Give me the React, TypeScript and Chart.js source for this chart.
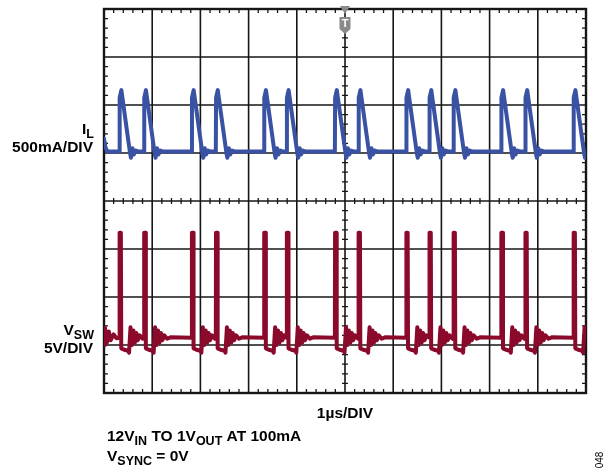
import React, { useEffect, useRef } from "react";
import { Chart, registerables } from "chart.js";
Chart.register(...registerables);

// Time axis in divisions (1 µs/DIV), vertical axis in divisions (8 DIV screen)
const xDivs = 10;
const yDivs = 8;

// Switching events (µs)
const pulseTimes = [0.32, 0.83, 1.82, 2.32, 3.32, 3.79, 4.79, 5.28, 6.27, 6.75, 7.25, 8.24, 8.74, 9.74];

// IL (500mA/DIV, zero at 5.03 DIV): tail of previous pulse at the left edge
const ilLeadT = [0, 0.03, 0.07];
const ilLeadV = [5.3, 5.12, 5.03];
// IL shape after each event (offset µs, DIV)
const ilShapeT = [0, 0.005, 0.04, 0.22, 0.24, 0.27, 0.3, 0.34, 0.4];
const ilShapeV = [5.03, 6.15, 6.31, 5.0, 4.9, 5.1, 4.97, 5.05, 5.03];

// VSW (5V/DIV, 0V at 1.0 DIV): ringing at the left edge
const vswLeadT = [0, 0.02, 0.06, 0.1, 0.14, 0.2, 0.26];
const vswLeadV = [1.0, 1.36, 1.05, 1.28, 1.1, 1.22, 1.14];
// VSW shape after each event (offset µs, DIV)
const vswShapeT = [0, 0.004, 0.03, 0.038, 0.1, 0.18, 0.2, 0.23, 0.26, 0.29, 0.32, 0.35, 0.38, 0.42, 0.48, 0.55];
const vswShapeV = [1.15, 3.34, 3.34, 0.93, 0.9, 0.88, 0.84, 1.37, 1.0, 1.3, 1.05, 1.25, 1.1, 1.2, 1.13, 1.16];

const ilLabel = [{ t: "I" }, { t: "L", sub: true }];
const ilScale = [{ t: "500mA/DIV" }];
const vswLabel = [{ t: "V" }, { t: "SW", sub: true }];
const vswScale = [{ t: "5V/DIV" }];
const timeLabel = [{ t: "1µs/DIV" }];
const note1 = [{ t: "12V" }, { t: "IN", sub: true }, { t: " TO 1V" }, { t: "OUT", sub: true }, { t: " AT 100mA" }];
const note2 = [{ t: "V" }, { t: "SYNC", sub: true }, { t: " = 0V" }];
const figId = "048";

function buildTrace(leadT: number[], leadV: number[], shT: number[], shV: number[]) {
  const pts: { x: number; y: number }[] = [];
  for (let i = 0; i < leadT.length; i++) {
    if (leadT[i] < pulseTimes[0]) pts.push({ x: leadT[i], y: leadV[i] });
  }
  for (let p = 0; p < pulseTimes.length; p++) {
    const t0 = pulseTimes[p];
    const next = p + 1 < pulseTimes.length ? pulseTimes[p + 1] : xDivs + 0.001;
    for (let j = 0; j < shT.length; j++) {
      const t = t0 + shT[j];
      if (t < next - 0.004 && t <= xDivs + 0.001) pts.push({ x: t, y: shV[j] });
    }
  }
  return pts;
}

type Run = { t: string; sub?: boolean };
const MAIN = 'bold 15.5px "Liberation Sans", Arial, sans-serif';
const SUB = 'bold 12.5px "Liberation Sans", Arial, sans-serif';

function drawRuns(ctx: CanvasRenderingContext2D, runs: Run[], x: number, y: number, align: "left" | "right" | "center") {
  let w = 0;
  for (const r of runs) {
    ctx.font = r.sub ? SUB : MAIN;
    w += ctx.measureText(r.t).width;
  }
  let cx = align === "left" ? x : align === "right" ? x - w : x - w / 2;
  ctx.textAlign = "left";
  ctx.textBaseline = "alphabetic";
  for (const r of runs) {
    ctx.font = r.sub ? SUB : MAIN;
    ctx.fillText(r.t, cx, r.sub ? y + 4 : y);
    cx += ctx.measureText(r.t).width;
  }
}

const gridPlugin = {
  id: "scopeGrid",
  beforeDatasetsDraw(chart: any) {
    const ctx: CanvasRenderingContext2D = chart.ctx;
    const xs = chart.scales.x;
    const ys = chart.scales.y;
    const L = xs.getPixelForValue(0), R = xs.getPixelForValue(xDivs);
    const T = ys.getPixelForValue(yDivs), B = ys.getPixelForValue(0);
    ctx.save();
    ctx.strokeStyle = "#161616";
    ctx.lineWidth = 1.6;
    for (let i = 1; i < xDivs; i++) {
      const px = xs.getPixelForValue(i);
      ctx.beginPath(); ctx.moveTo(px, T); ctx.lineTo(px, B); ctx.stroke();
    }
    for (let j = 1; j < yDivs; j++) {
      const py = ys.getPixelForValue(j);
      ctx.beginPath(); ctx.moveTo(L, py); ctx.lineTo(R, py); ctx.stroke();
    }
    // minor ticks
    ctx.lineWidth = 1.3;
    const cxp = xs.getPixelForValue(xDivs / 2);
    const cyp = ys.getPixelForValue(yDivs / 2);
    for (let k = 1; k < xDivs * 5; k++) {
      if (k % 5 === 0) continue;
      const px = xs.getPixelForValue(k / 5);
      ctx.beginPath();
      ctx.moveTo(px, T); ctx.lineTo(px, T + 4);
      ctx.moveTo(px, B); ctx.lineTo(px, B - 4);
      ctx.moveTo(px, cyp - 3); ctx.lineTo(px, cyp + 3);
      ctx.stroke();
    }
    for (let k = 1; k < yDivs * 5; k++) {
      if (k % 5 === 0) continue;
      const py = ys.getPixelForValue(k / 5);
      ctx.beginPath();
      ctx.moveTo(L, py); ctx.lineTo(L + 4, py);
      ctx.moveTo(R, py); ctx.lineTo(R - 4, py);
      ctx.moveTo(cxp - 3, py); ctx.lineTo(cxp + 3, py);
      ctx.stroke();
    }
    // border
    ctx.lineWidth = 2.4;
    ctx.strokeRect(L, T, R - L, B - T);
    ctx.restore();
  },
  afterDatasetsDraw(chart: any) {
    const ctx: CanvasRenderingContext2D = chart.ctx;
    const xs = chart.scales.x;
    const ys = chart.scales.y;
    const cx = xs.getPixelForValue(xDivs / 2);
    const T = ys.getPixelForValue(yDivs);
    ctx.save();
    ctx.fillStyle = "#8a8a8a";
    ctx.beginPath();
    ctx.moveTo(cx - 5, T - 3); ctx.lineTo(cx + 5, T - 3); ctx.lineTo(cx, T + 5); ctx.closePath();
    ctx.fill();
    ctx.beginPath();
    ctx.moveTo(cx - 5.5, T + 8); ctx.lineTo(cx + 5.5, T + 8); ctx.lineTo(cx + 5.5, T + 20);
    ctx.lineTo(cx, T + 25); ctx.lineTo(cx - 5.5, T + 20); ctx.closePath();
    ctx.fill();
    ctx.fillStyle = "#ffffff";
    ctx.font = 'bold 11px "Liberation Sans", Arial, sans-serif';
    ctx.textAlign = "center";
    ctx.textBaseline = "middle";
    ctx.fillText("T", cx, T + 15);
    ctx.restore();
  },
  afterDraw(chart: any) {
    const ctx: CanvasRenderingContext2D = chart.ctx;
    const xs = chart.scales.x;
    ctx.save();
    ctx.fillStyle = "#000000";
    drawRuns(ctx, ilLabel, 94, 134, "right");
    drawRuns(ctx, ilScale, 93, 152, "right");
    drawRuns(ctx, vswLabel, 94, 335, "right");
    drawRuns(ctx, vswScale, 93, 353, "right");
    drawRuns(ctx, timeLabel, xs.getPixelForValue(xDivs / 2), 418, "center");
    drawRuns(ctx, note1, 107, 441, "left");
    drawRuns(ctx, note2, 107, 461, "left");
    ctx.translate(600, 460);
    ctx.rotate(-Math.PI / 2);
    ctx.font = '10px "Liberation Sans", Arial, sans-serif';
    ctx.textAlign = "center";
    ctx.textBaseline = "middle";
    ctx.fillText(figId, 0, 0);
    ctx.restore();
  },
};

export default function App() {
  const ref = useRef<HTMLCanvasElement | null>(null);
  useEffect(() => {
    if (!ref.current) return;
    const chart = new Chart(ref.current, {
      type: "line",
      data: {
        datasets: [
          {
            label: "VSW",
            data: buildTrace(vswLeadT, vswLeadV, vswShapeT, vswShapeV),
            borderColor: "#8b0a2c",
            borderWidth: 4,
            pointRadius: 0,
            tension: 0,
            borderJoinStyle: "round",
            borderCapStyle: "round",
          },
          {
            label: "IL",
            data: buildTrace(ilLeadT, ilLeadV, ilShapeT, ilShapeV),
            borderColor: "#3a52a4",
            borderWidth: 4,
            pointRadius: 0,
            tension: 0,
            borderJoinStyle: "round",
            borderCapStyle: "round",
          },
        ],
      },
      options: {
        animation: false,
        responsive: false,
        maintainAspectRatio: false,
        parsing: false as any,
        layout: { padding: { left: 104, top: 9, right: 27, bottom: 79 } },
        scales: {
          x: { type: "linear", min: 0, max: xDivs, display: false },
          y: { type: "linear", min: 0, max: yDivs, display: false },
        },
        plugins: { legend: { display: false }, tooltip: { enabled: false } },
      },
      plugins: [gridPlugin],
    });
    return () => chart.destroy();
  }, []);
  return (
    <div style={{ position: "absolute", left: 0, top: 0, width: 613, height: 472, background: "#fff" }}>
      <canvas ref={ref} width={613} height={472} />
    </div>
  );
}
